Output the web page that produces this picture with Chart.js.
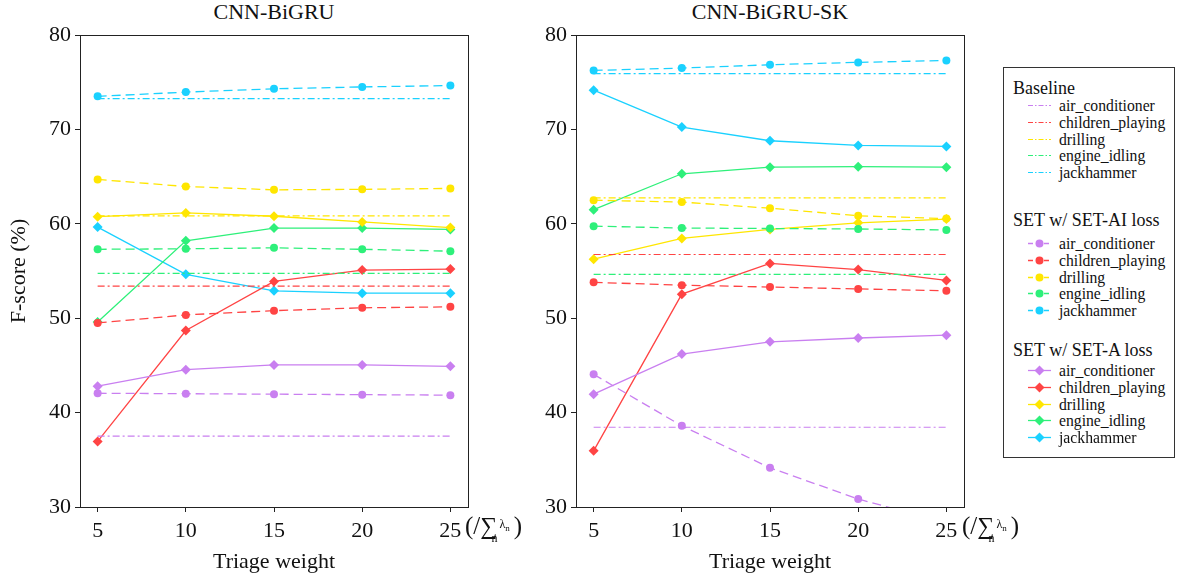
<!DOCTYPE html>
<html>
<head>
<meta charset="utf-8">
<script src="https://cdn.jsdelivr.net/npm/chart.js@4.4.0/dist/chart.umd.min.js"></script>
<style>
  body { margin: 0; background: #fff; }
  #wrap { position: relative; width: 1178px; height: 579px; font-family: 'Liberation Serif', Times, 'Times New Roman', 'DejaVu Serif', serif; color: #111; }
  .plot { position: absolute; top: 0; }
  .ttl { position: absolute; top: -1px; font-size: 22px; line-height: 26px; text-align: center; }
  .unit { position: absolute; top: 512px; font-size: 25px; line-height: 28px; white-space: nowrap; }
  .unit .s { font-size: 12px; position: relative; }
  .unit .sum { font-size: 24px; }
  #legend { position: absolute; left: 1003px; top: 67px; width: 172px; height: 391px; border: 1px solid #333; box-sizing: border-box; }
  .lrow { position: absolute; left: 0; height: 17px; line-height: 17px; font-size: 15.7px; white-space: nowrap; }
  .lrow svg { position: absolute; left: 23px; top: 0; }
  .lrow span { position: absolute; left: 55px; }
  .lhead { position: absolute; left: 9px; font-size: 18px; line-height: 20px; white-space: nowrap; }
</style>
</head>
<body>
<div id="wrap">
  <div class="ttl" style="left:80px;width:388px">CNN-BiGRU</div>
  <div class="ttl" style="left:576px;width:388px">CNN-BiGRU-SK</div>
  <div class="plot" style="left:0;width:490px;height:579px"><canvas id="c1" width="490" height="579"></canvas></div>
  <div class="plot" style="left:490px;width:490px;height:579px"><canvas id="c2" width="490" height="579"></canvas></div>
  <div class="unit" style="left:465px">(/<span class="sum">∑</span><span class="s" style="top:8px;left:-6px">n</span><span class="s" style="top:-6px;left:-4px">λ<span style="font-size:9px;position:relative;top:3px">n</span></span>)</div>
  <div class="unit" style="left:962px">(/<span class="sum">∑</span><span class="s" style="top:8px;left:-6px">n</span><span class="s" style="top:-6px;left:-4px">λ<span style="font-size:9px;position:relative;top:3px">n</span></span>)</div>
  <div id="legend"></div>
</div>
<script>
// x positions and y range
var xVals = [5, 10, 15, 20, 25];
var yTicks = [30, 40, 50, 60, 70, 80];
var categories = ['air_conditioner', 'children_playing', 'drilling', 'engine_idling', 'jackhammer'];
var colors = ['#c97ff0', '#ff4444', '#ffe600', '#2ef07a', '#1ad1ff'];

// CNN-BiGRU (rows follow categories)
var bigruBaseline = [37.5, 53.4, 60.85, 54.75, 73.25];
var bigruSetAI = [
    [42.05, 42.0, 41.95, 41.9, 41.85],
    [49.5, 50.35, 50.8, 51.1, 51.2],
    [64.7, 63.95, 63.6, 63.65, 63.75],
    [57.3, 57.35, 57.45, 57.3, 57.1],
    [73.5, 73.95, 74.3, 74.5, 74.65]
];
var bigruSetA = [
    [42.8, 44.55, 45.05, 45.05, 44.9],
    [36.95, 48.7, 53.9, 55.1, 55.2],
    [60.75, 61.15, 60.8, 60.2, 59.6],
    [49.6, 58.2, 59.55, 59.55, 59.4],
    [59.65, 54.65, 52.9, 52.65, 52.65]
];

// CNN-BiGRU-SK
var skBaseline = [38.45, 56.75, 62.75, 54.65, 75.9];
var skSetAI = [
    [44.05, 38.6, 34.15, 30.85, 28.3],
    [53.8, 53.5, 53.3, 53.1, 52.9],
    [62.5, 62.3, 61.65, 60.85, 60.55],
    [59.75, 59.55, 59.5, 59.45, 59.35],
    [76.25, 76.5, 76.85, 77.1, 77.3]
];
var skSetA = [
    [41.95, 46.2, 47.5, 47.9, 48.2],
    [35.95, 52.55, 55.8, 55.15, 54.0],
    [56.25, 58.45, 59.4, 60.1, 60.5],
    [61.5, 65.3, 66.0, 66.05, 66.0],
    [74.15, 70.25, 68.8, 68.3, 68.2]
];

var dashAI = [9, 5];
var dashBase = [7, 3, 2, 3];

Chart.defaults.font.family = "'Liberation Serif', Times, 'Times New Roman', 'DejaVu Serif', serif";
Chart.defaults.color = '#111';

function pts(vals) {
    return xVals.map(function (x, i) { return { x: x, y: vals[i] }; });
}

// frame round the plot area, like the matplotlib axes box
var framePlugin = {
    id: 'frame',
    afterDraw: function (chart) {
        var a = chart.chartArea, c = chart.ctx;
        c.save();
        c.strokeStyle = '#222';
        c.lineWidth = 1;
        c.strokeRect(Math.round(a.left) + 0.5, Math.round(a.top) + 0.5,
            Math.round(a.right - a.left), Math.round(a.bottom - a.top));
        c.restore();
    }
};

function buildDatasets(baseline, setAI, setA) {
    var ds = [];
    for (var i = 0; i < categories.length; i++) {
        ds.push({
            label: categories[i], data: pts(xVals.map(function () { return baseline[i]; })),
            borderColor: colors[i], borderWidth: 1.2, borderDash: dashBase, pointRadius: 0
        });
    }
    for (var i = 0; i < categories.length; i++) {
        ds.push({
            label: categories[i], data: pts(setAI[i]),
            borderColor: colors[i], backgroundColor: colors[i], borderWidth: 1.3, borderDash: dashAI,
            pointStyle: 'circle', pointRadius: 4, pointBorderWidth: 0
        });
    }
    for (var i = 0; i < categories.length; i++) {
        ds.push({
            label: categories[i], data: pts(setA[i]),
            borderColor: colors[i], backgroundColor: colors[i], borderWidth: 1.3,
            pointStyle: 'rectRot', pointRadius: 5, pointBorderWidth: 0
        });
    }
    return ds;
}

function makeChart(id, datasets, yAxisWidth, padRight, showYTitle) {
    var ctx = document.getElementById(id);
    return new Chart(ctx, {
        type: 'line',
        data: { datasets: datasets },
        options: {
            responsive: false,
            animation: false,
            layout: { padding: { top: 35, right: padRight, left: 0, bottom: 0 } },
            plugins: { legend: { display: false }, tooltip: { enabled: false } },
            scales: {
                x: {
                    type: 'linear', min: 4, max: 26,
                    afterBuildTicks: function (s) { s.ticks = xVals.map(function (v) { return { value: v }; }); },
                    afterFit: function (s) { s.height = 72; },
                    grid: { drawOnChartArea: false, drawTicks: true, tickLength: 5, color: '#222' },
                    border: { display: false },
                    ticks: { font: { size: 22 }, color: '#111', padding: 6, maxRotation: 0 },
                    title: { display: true, text: 'Triage weight', font: { size: 22 }, color: '#111', padding: { top: 0, bottom: 4 } }
                },
                y: {
                    min: 30, max: 80,
                    afterBuildTicks: function (s) { s.ticks = yTicks.map(function (v) { return { value: v }; }); },
                    afterFit: function (s) { s.width = yAxisWidth; },
                    grid: { drawOnChartArea: false, drawTicks: true, tickLength: 5, color: '#222' },
                    border: { display: false },
                    ticks: { font: { size: 22 }, color: '#111', padding: 4 },
                    title: { display: showYTitle, text: 'F-score (%)', font: { size: 22 }, color: '#111', padding: { top: 6, bottom: 0 } }
                }
            }
        },
        plugins: [framePlugin]
    });
}

makeChart('c1', buildDatasets(bigruBaseline, bigruSetAI, bigruSetA), 80, 22, true);
makeChart('c2', buildDatasets(skBaseline, skSetAI, skSetA), 86, 16, false);

// legend box
function sample(color, kind) {
    var line, mark = '';
    if (kind === 'base') {
        line = '<line x1="1" y1="8.5" x2="24" y2="8.5" stroke="' + color + '" stroke-width="1.2" stroke-dasharray="5,2,1.5,2"/>';
    } else if (kind === 'ai') {
        line = '<line x1="1" y1="8.5" x2="24" y2="8.5" stroke="' + color + '" stroke-width="1.3" stroke-dasharray="5,3"/>';
        mark = '<circle cx="12.5" cy="8.5" r="4" fill="' + color + '"/>';
    } else {
        line = '<line x1="1" y1="8.5" x2="24" y2="8.5" stroke="' + color + '" stroke-width="1.3"/>';
        mark = '<polygon points="12.5,3.5 17.5,8.5 12.5,13.5 7.5,8.5" fill="' + color + '"/>';
    }
    return '<svg width="26" height="17">' + line + mark + '</svg>';
}

var legend = document.getElementById('legend');
var groups = [
    { title: 'Baseline', kind: 'base', top: 10, rows: 29 },
    { title: 'SET w/ SET-AI loss', kind: 'ai', top: 142, rows: 167 },
    { title: 'SET w/ SET-A loss', kind: 'a', top: 272, rows: 294 }
];
var html = '';
groups.forEach(function (g) {
    html += '<div class="lhead" style="top:' + g.top + 'px">' + g.title + '</div>';
    for (var i = 0; i < categories.length; i++) {
        html += '<div class="lrow" style="top:' + (g.rows + i * 16.8) + 'px">' + sample(colors[i], g.kind) +
            '<span>' + categories[i] + '</span></div>';
    }
});
legend.innerHTML = html;
</script>
</body>
</html>
